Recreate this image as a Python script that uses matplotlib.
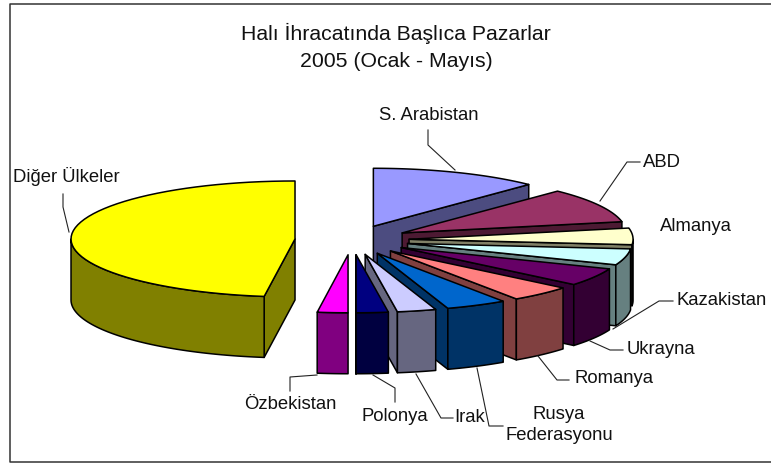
import matplotlib
matplotlib.use("Agg")
import matplotlib.pyplot as plt
import numpy as np

plt.rcParams["font.family"] = ["Liberation Sans", "DejaVu Sans"]

# Shares, clockwise from 12 o'clock
names = ["S. Arabistan", "ABD", "Almanya", "Kazakistan", "Ukrayna", "Romanya",
         "Rusya Federasyonu", "Irak", "Polonya", "Özbekistan", "Diğer Ülkeler"]
shares = [12.2, 9.7, 4.6, 4.5, 5.0, 4.5, 4.4, 2.8, 2.3, 2.2, 47.8]
top_colors = ["#9999FF", "#993366", "#FFFFCC", "#CCFFFF", "#660066", "#FF8080",
              "#0066CC", "#CCCCFF", "#000080", "#FF00FF", "#FFFF00"]
side_colors = ["#4C4C80", "#4D1A33", "#808066", "#668080", "#330033", "#804040",
               "#003366", "#666680", "#000040", "#800080", "#808000"]

title_lines = "Halı İhracatında Başlıca Pazarlar\n2005 (Ocak - Mayıs)"

# label text, x, y, horizontal alignment
labels = [
    ("S. Arabistan", 429, 115, "center"),
    ("ABD", 643, 163, "left"),
    ("Almanya", 660, 227, "left"),
    ("Kazakistan", 676, 301, "left"),
    ("Ukrayna", 627, 350, "left"),
    ("Romanya", 574, 379, "left"),
    ("Rusya\nFederasyonu", 559, 425, "center"),
    ("Irak", 454, 418, "left"),
    ("Polonya", 395, 417, "center"),
    ("Özbekistan", 290, 405, "center"),
    ("Diğer Ülkeler", 13, 177, "left"),
]

leaders = [
    ([428, 428, 455], [131, 146, 171]),
    ([640, 627, 600], [163, 163, 202]),
    ([673, 659, 613], [302, 302, 330]),
    ([623, 610, 590], [351, 351, 342]),
    ([569, 557, 538], [381, 381, 357]),
    ([503, 489, 477], [427, 427, 369]),
    ([453, 441, 416], [419, 419, 375]),
    ([395, 395, 373], [403, 389, 376]),
    ([290, 290, 317], [392, 378, 376]),
    ([63, 63, 69], [195, 208, 233]),
]

# Pie geometry in pixels
cx, cy = 352, 241
rx, ry = 224, 58
depth = 61
explode = 0.255


def rim(a0, a1, x0, y0):
    t = np.radians(np.linspace(a0, a1, 60))
    return x0 + rx * np.sin(t), y0 - ry * np.cos(t)


fig = plt.figure(figsize=(7.71, 4.64), dpi=100)
ax = fig.add_axes([0, 0, 1, 1])
ax.set_xlim(0, 771)
ax.set_ylim(464, 0)
ax.axis("off")

edge = dict(edgecolor="black", linewidth=1.1, joinstyle="round")

# Back to front
bounds = np.concatenate([[0], np.cumsum(shares)]) * 3.6
for i in range(len(shares)):
    a0, a1 = bounds[i], bounds[i + 1]
    mid = np.radians((a0 + a1) / 2)
    x0 = cx + explode * rx * np.sin(mid)
    y0 = cy - explode * ry * np.cos(mid)

    # radial side faces that look at the viewer
    for a, visible in ((a0, a0 > 180), (a1, a1 < 180)):
        if visible:
            ex, ey = rim(a, a, x0, y0)
            ax.fill([x0, ex[0], ex[0], x0], [y0, ey[0], ey[0] + depth, y0 + depth],
                    facecolor=side_colors[i], **edge)

    # outer wall, front half only
    w0, w1 = max(a0, 90), min(a1, 270)
    if w1 > w0:
        wx, wy = rim(w0, w1, x0, y0)
        ax.fill(np.r_[wx, wx[::-1]], np.r_[wy, wy[::-1] + depth],
                facecolor=side_colors[i], **edge)

    tx, ty = rim(a0, a1, x0, y0)
    ax.fill(np.r_[x0, tx], np.r_[y0, ty], facecolor=top_colors[i], **edge)

for lx, ly in leaders:
    ax.plot(lx, ly, color="#222222", linewidth=0.8)

for text, x, y, ha in labels:
    ax.text(x, y, text, ha=ha, va="center", fontsize=13.3, color="#111111",
            linespacing=1.25)

ax.text(396, 47, title_lines, ha="center", va="center", fontsize=15.3,
        color="#111111", linespacing=1.48)

# Chart frame runs off the right side of the picture
ax.plot([771, 9.5, 9.5, 771], [4.5, 4.5, 463, 463], color="#333333", linewidth=1.1)

fig.savefig("out.png", dpi=100)
